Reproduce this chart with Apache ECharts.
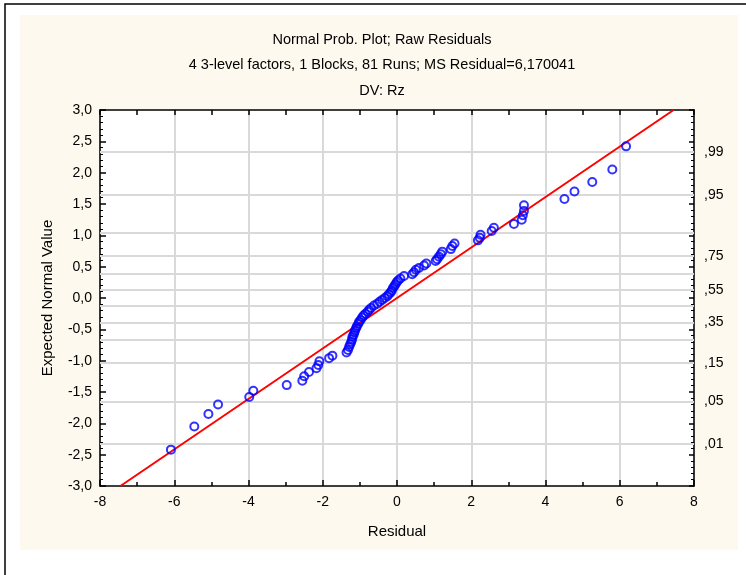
<!DOCTYPE html>
<html>
<head>
<meta charset="utf-8">
<script src="https://cdn.jsdelivr.net/npm/echarts@6/dist/echarts.min.js"></script>
<style>
  html, body { margin: 0; padding: 0; background: #fff; }
  #chart { width: 746px; height: 575px; }
</style>
</head>
<body>
<div id="chart"></div>
<script>
// raw residuals, sorted
const residuals = [
  -6.09, -5.46, -5.08, -4.82, -3.98, -3.87, -2.97, -2.55, -2.50, -2.37,
  -2.17, -2.12, -2.09, -1.83, -1.74, -1.36, -1.32, -1.29, -1.26, -1.23,
  -1.21, -1.20, -1.17, -1.15, -1.13, -1.10, -1.08, -1.04, -1.02, -0.98,
  -0.94, -0.90, -0.85, -0.79, -0.75, -0.70, -0.62, -0.53, -0.47, -0.40,
  -0.33, -0.26, -0.22, -0.17, -0.14, -0.11, -0.07, -0.04, -0.01, 0.03,
  0.09, 0.19, 0.41, 0.46, 0.51, 0.59, 0.73, 0.79, 1.04, 1.08,
  1.13, 1.18, 1.22, 1.45, 1.49, 1.55, 2.18, 2.23, 2.25, 2.55,
  2.61, 3.15, 3.36, 3.39, 3.42, 3.42, 4.51, 4.78, 5.26, 5.80, 6.17
];
// expected normal values
const expected = [
  -2.42, -2.05, -1.85, -1.70, -1.58, -1.48, -1.39, -1.32, -1.25, -1.18,
  -1.12, -1.07, -1.01, -0.96, -0.92, -0.87, -0.83, -0.78, -0.74, -0.70,
  -0.66, -0.62, -0.59, -0.55, -0.52, -0.48, -0.45, -0.41, -0.38, -0.35,
  -0.31, -0.28, -0.25, -0.22, -0.19, -0.16, -0.12, -0.09, -0.06, -0.03,
  0.00, 0.03, 0.06, 0.09, 0.12, 0.16, 0.19, 0.22, 0.25, 0.28,
  0.31, 0.35, 0.38, 0.41, 0.45, 0.48, 0.52, 0.55, 0.59, 0.62,
  0.66, 0.70, 0.74, 0.78, 0.83, 0.87, 0.92, 0.96, 1.01, 1.07,
  1.12, 1.18, 1.25, 1.32, 1.39, 1.48, 1.58, 1.70, 1.85, 2.05, 2.42
];
// reference line (residual / sqrt(MS Residual))
const fitLine = [[-7.45, -3.0], [7.45, 3.0]];

// probability grid on the right axis
const probGridZ = [-2.326, -1.645, -1.036, -0.674, -0.385, -0.126, 0.126, 0.385, 0.674, 1.036, 1.645, 2.326];
const probLabelZ = [-2.326, -1.645, -1.036, -0.385, 0.126, 0.674, 1.645, 2.326];
const probLabels = [',01', ',05', ',15', ',35', ',55', ',75', ',95', ',99'];

const titleLines = [
  'Normal Prob. Plot; Raw Residuals',
  '4 3-level factors, 1 Blocks, 81 Runs; MS Residual=6,170041',
  'DV: Rz'
];

const FONT = '"Liberation Sans", Arial, sans-serif';
const points = residuals.map((r, i) => [r, expected[i]]);

const chart = echarts.init(document.getElementById('chart'));

const axisLine = { show: true, onZero: false, lineStyle: { color: '#000', width: 1.5 } };

chart.setOption({
  animation: false,
  backgroundColor: '#fff',
  textStyle: { fontFamily: FONT },
  graphic: [
    { type: 'rect', z: -10, shape: { x: 20, y: 15, width: 718, height: 535 }, style: { fill: '#fdf9ee' } },
    { type: 'polyline', z: -9, shape: { points: [[5, 575], [5, 4], [746, 4]] }, style: { stroke: '#000', lineWidth: 1.5, fill: null } }
  ],
  title: titleLines.map((t, i) => ({
    text: t,
    left: 377,
    textAlign: 'center',
    top: 27 + i * 25.5,
    textStyle: { fontSize: 14.5, fontWeight: 'normal', color: '#000', fontFamily: FONT }
  })),
  grid: {
    left: 100, top: 110, right: 52, bottom: 89,
    show: true, backgroundColor: '#fff', borderWidth: 0
  },
  xAxis: [
    {
      type: 'value', min: -8, max: 8, interval: 2, position: 'bottom',
      name: 'Residual', nameLocation: 'middle', nameGap: 38,
      nameTextStyle: { fontSize: 15, color: '#000' },
      axisLine,
      axisTick: { show: true, inside: true, length: 6, lineStyle: { color: '#000', width: 1.5 } },
      minorTick: { show: true, splitNumber: 2, length: 4, lineStyle: { color: '#000', width: 1.5 } },
      axisLabel: { fontSize: 14, color: '#000', margin: 9 },
      splitLine: { show: true, lineStyle: { color: '#d9d9d9', width: 2 } }
    },
    {
      type: 'value', min: -8, max: 8, interval: 1, position: 'top',
      axisLine,
      axisTick: { show: true, inside: true, length: 5, lineStyle: { color: '#000', width: 1.5 } },
      axisLabel: { show: false },
      splitLine: { show: false }
    }
  ],
  yAxis: [
    {
      type: 'value', min: -3, max: 3, interval: 0.5, position: 'left',
      name: 'Expected Normal Value', nameLocation: 'middle', nameGap: 45,
      nameTextStyle: { fontSize: 15, color: '#000' },
      axisLine,
      axisTick: { show: true, inside: true, length: 6, lineStyle: { color: '#000', width: 1.5 } },
      minorTick: { show: true, splitNumber: 5, length: 3, lineStyle: { color: '#000', width: 1 } },
      axisLabel: {
        fontSize: 14, color: '#000', margin: 8,
        formatter: (v) => v.toFixed(1).replace('.', ',')
      },
      splitLine: { show: false }
    },
    {
      type: 'value', min: -3, max: 3, interval: 0.5, position: 'right',
      axisLine,
      axisTick: { show: true, inside: true, length: 5, lineStyle: { color: '#000', width: 1.5 } },
      minorTick: { show: true, splitNumber: 5, length: 3, lineStyle: { color: '#000', width: 1 } },
      axisLabel: { show: false },
      splitLine: { show: false }
    },
    {
      type: 'value', min: -3, max: 3, position: 'right',
      axisLine: { show: false },
      axisTick: { show: false },
      axisLabel: {
        show: true, fontSize: 14, color: '#000', margin: 10,
        customValues: probLabelZ,
        formatter: (v) => {
          let best = 0;
          probLabelZ.forEach((z, i) => { if (Math.abs(z - v) < Math.abs(probLabelZ[best] - v)) best = i; });
          return probLabels[best];
        }
      },
      splitLine: { show: false }
    }
  ],
  series: [
    {
      type: 'line',
      xAxisIndex: 0, yAxisIndex: 0,
      data: [],
      z: 1,
      silent: true,
      markLine: {
        silent: true,
        z: 1,
        symbol: 'none',
        label: { show: false },
        lineStyle: { color: '#d9d9d9', width: 2, type: 'solid' },
        data: probGridZ.map((z) => ({ yAxis: z }))
      }
    },
    {
      type: 'line',
      xAxisIndex: 0, yAxisIndex: 0,
      data: fitLine,
      symbol: 'none',
      z: 8,
      lineStyle: { color: '#ff0000', width: 2 }
    },
    {
      type: 'scatter',
      xAxisIndex: 0, yAxisIndex: 0,
      data: points,
      symbol: 'circle',
      symbolSize: 8,
      z: 9,
      itemStyle: { color: 'rgba(0,0,0,0)', borderColor: '#0000ff', borderWidth: 2 }
    }
  ]
});
</script>
</body>
</html>
